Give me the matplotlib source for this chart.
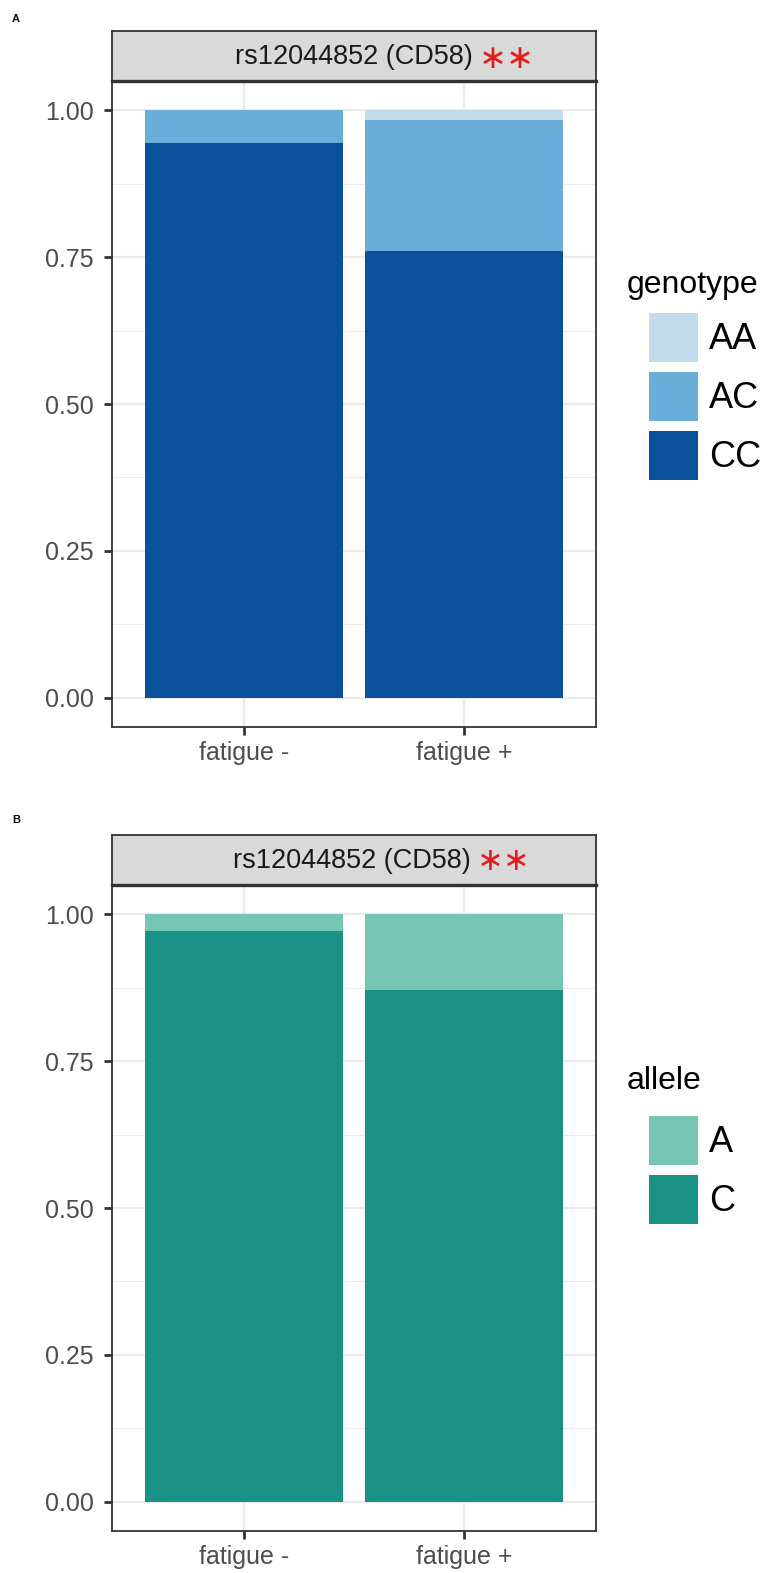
import matplotlib
matplotlib.use("Agg")
import matplotlib.pyplot as plt
from matplotlib.patches import Patch

# genotype / allele frequencies per fatigue group
groups = ["fatigue -", "fatigue +"]
genotypes = ["AA", "AC", "CC"]
genotype_freq = {
    "AA": [0.000, 0.016],
    "AC": [0.056, 0.223],
    "CC": [0.944, 0.761],
}
genotype_colors = {"AA": "#c1dcea", "AC": "#67afd8", "CC": "#0a519c"}

alleles = ["A", "C"]
allele_freq = {
    "A": [0.028, 0.128],
    "C": [0.972, 0.872],
}
allele_colors = {"A": "#74c6b2", "C": "#199187"}

yticks = [0.0, 0.25, 0.5, 0.75, 1.0]
yminor = [0.125, 0.375, 0.625, 0.875]
strip_label = "rs12044852 (CD58)"
signif = "\u2217\u2217"

W, H = 773, 1573
sans = ["Liberation Sans", "DejaVu Sans"]

fig = plt.figure(figsize=(W / 100, H / 100), dpi=100)


def box(x0, y0, x1, y1):
    # pixel box (top-left origin) -> figure fraction rect
    return [x0 / W, 1 - y1 / H, (x1 - x0) / W, (y1 - y0) / H]


def panel(ax_box, strip_box, keys, freq, colors, title, title_y, legend_y,
          text_right, star_left, star_size):
    ax = fig.add_axes(box(*ax_box))
    bottom = [0.0] * len(groups)
    # stack from the last level upward
    for k in reversed(keys):
        ax.bar(range(len(groups)), freq[k], width=0.9, bottom=bottom,
               color=colors[k], zorder=2)
        bottom = [b + v for b, v in zip(bottom, freq[k])]
    ax.set_xlim(-0.6, 1.6)
    ax.set_ylim(-0.05, 1.05)
    ax.set_xticks(range(len(groups)))
    ax.set_xticklabels(groups)
    ax.set_yticks(yticks)
    ax.set_yticklabels(["%.2f" % t for t in yticks])
    ax.set_yticks(yminor, minor=True)
    ax.grid(True, which="major", color="#ebebeb", lw=1.6, zorder=0)
    ax.grid(True, which="minor", axis="y", color="#ebebeb", lw=0.8, zorder=0)
    ax.tick_params(which="minor", length=0)
    ax.tick_params(which="major", length=6, width=2.0, color="#333333",
                   labelsize=18, labelcolor="#4d4d4d")
    ax.tick_params(axis="y", pad=7)
    ax.tick_params(axis="x", pad=4)
    for lab in ax.get_xticklabels() + ax.get_yticklabels():
        lab.set_family(sans)
    for s in ax.spines.values():
        s.set_color("#333333")
        s.set_linewidth(1.3)

    st = fig.add_axes(box(*strip_box))
    st.set_facecolor("#d9d9d9")
    st.set_xticks([])
    st.set_yticks([])
    for s in st.spines.values():
        s.set_color("#333333")
        s.set_linewidth(1.3)
    st.spines["bottom"].set_linewidth(2.4)
    x0 = strip_box[0]
    sw = strip_box[2] - strip_box[0]
    st.text((text_right - x0) / sw, 0.48, strip_label, transform=st.transAxes,
            ha="right", va="center", fontsize=19.5, color="#1a1a1a", family=sans)
    st.text((star_left - x0) / sw, 0.46, signif, transform=st.transAxes,
            ha="left", va="center", fontsize=star_size, color="#e41a1c",
            family="DejaVu Sans")

    fig.text(627 / W, 1 - title_y / H, title, fontsize=23, va="center",
             ha="left", family=sans)
    handles = [Patch(facecolor=colors[k], edgecolor="none", label=k) for k in keys]
    fig.legend(handles=handles, loc="upper left",
               bbox_to_anchor=(649 / W, 1 - legend_y / H),
               frameon=False, borderpad=0, borderaxespad=0,
               handlelength=1.36, handleheight=1.71, labelspacing=0.28,
               handletextpad=0.3, prop={"family": sans, "size": 26})
    return ax


panel((112, 81, 596, 727), (112, 31, 596, 81), genotypes, genotype_freq,
      genotype_colors, "genotype", 285, 313, 473, 479, 24)
panel((112, 885, 596, 1531), (112, 835, 596, 885), alleles, allele_freq,
      allele_colors, "allele", 1081, 1116, 471, 477, 23)

fig.text(12 / W, 1 - 19 / H, "A", fontsize=8, fontweight="bold", va="center",
         family=sans)
fig.text(12 / W, 1 - 820 / H, "B", fontsize=8, fontweight="bold", va="center",
         family=sans)

fig.savefig("out.png", dpi=100)
